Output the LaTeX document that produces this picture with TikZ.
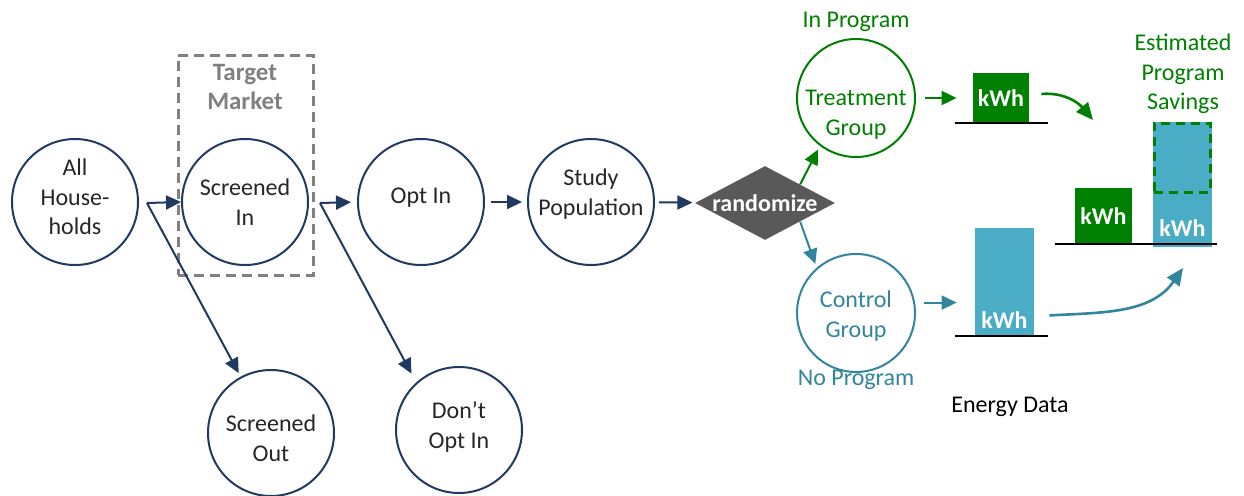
\documentclass[tikz,border=0pt]{standalone}
\usepackage{fontspec}
\setmainfont{Carlito}
\usetikzlibrary{positioning, calc, shapes.geometric, arrows.meta}
\definecolor{navy}{HTML}{1F3A60}
\definecolor{pgreen}{HTML}{008000}
\definecolor{tealtxt}{HTML}{31859C}
\definecolor{tealbar}{HTML}{4BACC6}
\definecolor{dashgray}{HTML}{808080}
\definecolor{randgray}{HTML}{595959}
\definecolor{ink}{HTML}{262626}

\begin{document}
\begin{tikzpicture}[x=0.5pt, y=0.5pt, font=\fontsize{12}{14.8}\selectfont,
	circ/.style={circle, draw=navy, line width=1pt, minimum size=63pt, inner sep=0pt},
	grp/.style={circle, draw=#1, line width=1pt, minimum size=59pt, inner sep=0pt},
	txt/.style={align=center, text=ink},
	flow/.style={draw=#1, line width=1pt, -{Triangle[length=7.5pt,width=7pt]}},
	bend/.style={draw=#1, line width=1.3pt, -{Triangle[length=8.5pt,width=7.5pt]}},
	bar/.style={fill=#1, inner sep=0pt, text=white, font=\fontsize{12}{14.8}\selectfont\bfseries},
	kwh/.style={text=white, inner sep=2pt, font=\fontsize{12}{14.8}\selectfont\bfseries},
	base/.style={draw=black, line width=1pt}]
	\useasboundingbox (0,0) rectangle (1244,495);

	\node (mkt) at (245.5,330) [draw=dashgray, line width=1.5pt, dash pattern=on 5pt off 3pt, minimum width=67.5pt, minimum height=110pt] {};
	\node (mktlbl) at (245,408) [text=dashgray, align=center, font=\fontsize{12.5}{14.8}\selectfont\bfseries] {Target\\Market};

	\node (hh) at (75,293) [circ, label={[txt, yshift=2.5pt]center:All\\House-\\holds}] {};
	\node (sin) at (245,293) [circ, label={[txt]center:Screened\\In}] {};
	\node (oin) at (421,293) [circ, label={[txt, yshift=2pt]center:Opt In}] {};
	\node (pop) at (591,293) [circ, label={[txt, yshift=4pt]center:Study\\Population}] {};
	\node (sout) at (271,62) [circ, label={[txt, yshift=-2.5pt]center:Screened\\Out}] {};
	\node (don) at (459,65) [circ, label={[txt, yshift=1.5pt]center:Don’t\\Opt In}] {};
	\node (rand) at (765,292) [diamond, fill=randgray, minimum width=70pt, minimum height=37pt, inner sep=0pt,
		label={[text=white, font=\fontsize{12}{14.8}\selectfont\bfseries]center:randomize}] {};

	\node (trt) at (856,397) [grp=pgreen, label={[txt, text=pgreen, yshift=-8.5pt]center:Treatment\\Group}] {};
	\node (ctl) at (856,182) [grp=tealtxt, label={[txt, text=tealtxt, yshift=-1.5pt]center:Control\\Group}] {};
	\node (inp) at (856,473) [text=pgreen] {In Program};
	\node (nop) at (856,115) [text=tealtxt] {No Program};

	\node (tbar) at (1001,397) [bar=pgreen, minimum width=28pt, minimum height=25pt] {kWh};
	\node (cbar) at (1004.5,213) [bar=tealbar, minimum width=29.5pt, minimum height=54pt] {};
	\node (clbl) [kwh, above=2pt of cbar.south] {kWh};
	\node (edata) at (1010,88) {Energy Data};

	\node (gbar) at (1103.5,279) [bar=pgreen, minimum width=28.5pt, minimum height=28pt] {kWh};
	\node (sbar) at (1182.5,310.5) [bar=tealbar, minimum width=29.5pt, minimum height=62.5pt] {};
	\node (slbl) [kwh, above=3.5pt of sbar.south] {kWh};
	\node (sav) at (1182,337.5) [draw=pgreen, line width=1.5pt, dash pattern=on 4.5pt off 3pt, minimum width=28pt, minimum height=34.5pt] {};
	\node (savlbl) at (1183,421) [text=pgreen, align=center] {Estimated\\Program\\Savings};

	\draw[base] ($(tbar.south west)+(-18,0)$) -- ($(tbar.south east)+(19,0)$);
	\draw[base] ($(cbar.south west)+(-20,0)$) -- ($(cbar.south east)+(14,0)$);
	\draw[base] ($(gbar.south west)+(-20,0)$) -- ++(162,0);

	\coordinate (split1) at (147,292);
	\coordinate (split2) at (320,292);
	\draw[flow=navy] (split1) -- (sin.west);
	\draw[flow=navy, shorten >=2pt] (split1) -- (sout);
	\draw[flow=navy, shorten >=3pt] (split2) -- (oin.west);
	\draw[flow=navy, shorten >=5pt] (split2) -- (don.132);
	\draw[flow=navy, shorten <=3pt, shorten >=2.5pt] (oin) -- (pop);
	\draw[flow=navy, shorten <=2pt, shorten >=1.5pt] (pop) -- (rand);
	\draw[flow=pgreen, shorten >=2pt] (rand.north east) -- (trt.233);
	\draw[flow=tealtxt, shorten >=2pt] (rand.south east) -- (ctl.131);
	\draw[flow=pgreen, shorten <=4.5pt, shorten >=8pt] (trt.east) -- (tbar.west);
	\draw[flow=tealtxt, shorten <=4.5pt, shorten >=9pt] (ctl.10) -- (ctl.10 -| cbar.west);

	\coordinate (gend) at (1093,375);
	\coordinate (cend) at (1183,227);
	\draw[bend=pgreen] ([xshift=6pt,yshift=2pt]tbar.east) to[out=5, in=130] (gend);
	\draw[bend=tealtxt] ($(cbar.south east)+(15,21)$) to[out=3, in=235] (cend);
\end{tikzpicture}
\end{document}
